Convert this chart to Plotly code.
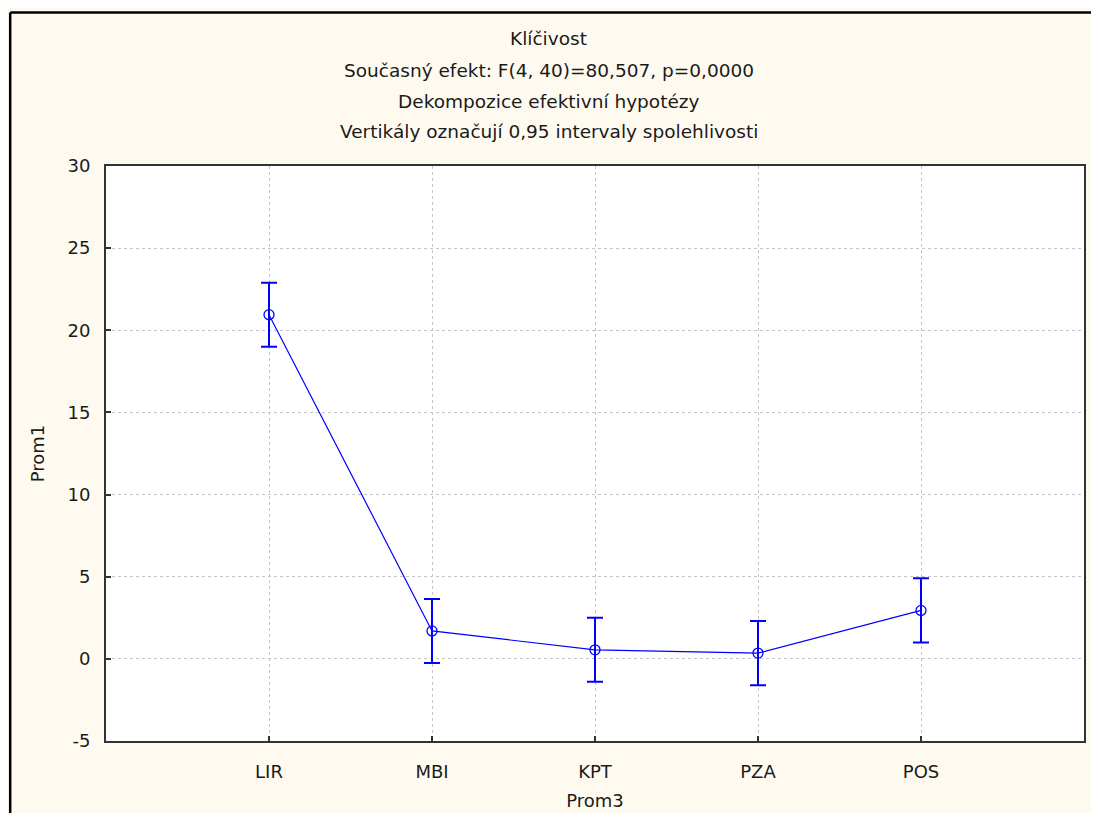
import plotly.graph_objects as go

categories = ["LIR", "MBI", "KPT", "PZA", "POS"]
means = [20.95, 1.7, 0.55, 0.35, 2.95]
ci_half = [1.95, 1.95, 1.95, 1.95, 1.95]
y_ticks = [-5, 0, 5, 10, 15, 20, 25, 30]
y_tick_labels = ["-5", "0", "5", "10", "15", "20", "25", "30"]
title_lines = [
    "Klíčivost",
    "Současný efekt: F(4, 40)=80,507, p=0,0000",
    "Dekompozice efektivní hypotézy",
    "Vertikály označují 0,95 intervaly spolehlivosti",
]

FONT = "DejaVu Sans"
OFF = 8  # default page body margin
W, H = 1099 - 2 * OFF, 821 - 2 * OFF
# plot area in page pixels: x 106..1086, y 166..743
L, T = 106 - OFF, 166 - OFF
R = W - (1086 - OFF)
B = H - (743 - OFF)
pw, ph = W - L - R, H - T - B


def py(ypage):
    return (H - B - (ypage - OFF)) / ph


def px(xpage):
    return ((xpage - OFF) - L) / pw


fig = go.Figure()
fig.add_trace(go.Scatter(
    x=categories, y=means, mode="lines+markers",
    line=dict(color="#0000FF", width=1.2),
    marker=dict(symbol="circle-open", size=10, color="#0000FF", line=dict(width=1.3)),
    error_y=dict(type="data", array=ci_half, visible=True, color="#0000FF",
                 thickness=2, width=8),
    showlegend=False,
))

annotations = []
for txt, yp in zip(title_lines, [38, 70, 101, 131]):
    annotations.append(dict(text=txt, xref="paper", yref="paper", x=px(549.5), y=py(yp),
                            showarrow=False, xanchor="center", yanchor="middle",
                            font=dict(family=FONT, size=18.5, color="#1a1a1a")))

border = dict(color="#000000", width=2.5)
fig.update_layout(
    width=W, height=H,
    margin=dict(l=L, r=R, t=T, b=B),
    paper_bgcolor="#FFFAF0",
    plot_bgcolor="#FFFFFF",
    font=dict(family=FONT, size=18, color="#1a1a1a"),
    annotations=annotations,
    shapes=[
        dict(type="line", xref="paper", yref="paper",
             x0=px(10), x1=px(1099), y0=py(12), y1=py(12), line=border, layer="above"),
        dict(type="line", xref="paper", yref="paper",
             x0=px(10), x1=px(10), y0=py(12), y1=py(821), line=border, layer="above"),
    ],
)
fig.update_xaxes(
    type="category", range=[-1, 5],
    showline=True, mirror=True, linecolor="#333333", linewidth=2,
    showgrid=True, gridcolor="#C4C4C4", griddash="dot", gridwidth=1,
    ticks="inside", ticklen=5, tickcolor="#333333", tickwidth=1.5,
    ticklabelstandoff=13,
    title=dict(text="Prom3", standoff=14, font=dict(family=FONT, size=18)),
    tickfont=dict(family=FONT, size=18),
    zeroline=False,
)
fig.update_yaxes(
    range=[-5, 30], tickvals=y_ticks, ticktext=y_tick_labels,
    showline=True, mirror=True, linecolor="#333333", linewidth=2,
    showgrid=True, gridcolor="#C4C4C4", griddash="dot", gridwidth=1,
    ticks="inside", ticklen=5, tickcolor="#333333", tickwidth=1.5,
    ticklabelstandoff=10,
    title=dict(text="Prom1", standoff=18, font=dict(family=FONT, size=18)),
    tickfont=dict(family=FONT, size=18),
    zeroline=False,
)

fig.write_html("out.html")
